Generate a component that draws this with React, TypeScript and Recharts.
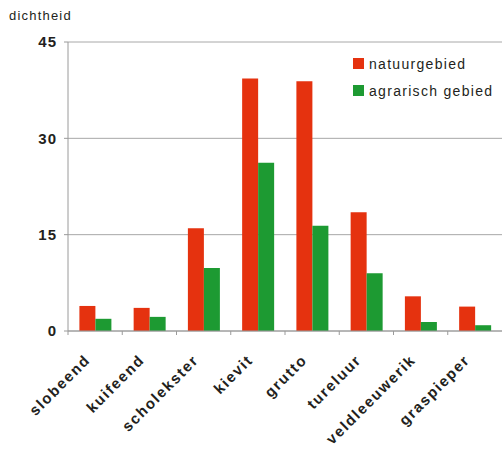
import React from "react";
import { BarChart, Bar, XAxis, YAxis, CartesianGrid } from "recharts";

const birds = [
  "slobeend",
  "kuifeend",
  "scholekster",
  "kievit",
  "grutto",
  "tureluur",
  "veldleeuwerik",
  "graspieper",
];
const natuurgebied = [3.9, 3.6, 16.0, 39.3, 38.9, 18.5, 5.4, 3.8];
const agrarisch = [1.9, 2.2, 9.8, 26.2, 16.4, 9.0, 1.4, 0.9];
const yTicks = [0, 15, 30, 45];

const RED = "#e5320f";
const GREEN = "#1d9a32";
const TEXT = "#231f20";
const FONT = "Liberation Sans, Arial, sans-serif";

const data = birds.map((name, i) => ({
  name,
  natuur: natuurgebied[i],
  agrarisch: agrarisch[i],
}));

const series = [
  { key: "natuur", label: "natuurgebied", color: RED },
  { key: "agrarisch", label: "agrarisch gebied", color: GREEN },
];

// category labels at 45 degrees, plus a tick mark on the left boundary of each band
function BirdTick(props: any) {
  const { x, y, payload } = props;
  const half = 434 / birds.length / 2;
  const tx = x - 4;
  const ty = y + 22;
  return (
    <g>
      <line x1={x - half} y1={y - 8} x2={x - half} y2={y - 4} stroke="#9a9a9a" />
      <text
        x={tx}
        y={ty}
        transform={`rotate(-45 ${tx} ${ty})`}
        textAnchor="end"
        fontSize={15}
        fontWeight="bold"
        letterSpacing={1.6}
        fill={TEXT}
        fontFamily={FONT}
      >
        {payload.value}
      </text>
    </g>
  );
}

export default function App() {
  return (
    <div
      style={{
        position: "absolute",
        left: 0,
        top: 0,
        width: 502,
        height: 452,
        background: "#fff",
        fontFamily: FONT,
      }}
    >
      <div
        style={{
          position: "absolute",
          left: 9,
          top: 8,
          fontSize: 13,
          letterSpacing: 1.2,
          color: TEXT,
        }}
      >
        dichtheid
      </div>
      <div
        style={{
          position: "absolute",
          left: 353,
          top: 50,
          fontSize: 14,
          letterSpacing: 1.3,
          color: TEXT,
        }}
      >
        {series.map((s) => (
          <div key={s.key} style={{ display: "flex", alignItems: "center", height: 27 }}>
            <span
              style={{
                width: 11,
                height: 11,
                background: s.color,
                marginRight: 5,
                display: "inline-block",
              }}
            />
            {s.label}
          </div>
        ))}
      </div>
      <BarChart
        width={502}
        height={452}
        data={data}
        margin={{ top: 42, right: 0, left: 0, bottom: 0 }}
        barCategoryGap="21%"
        barGap={0}
      >
        <CartesianGrid vertical={false} stroke="#a8a8a8" />
        <XAxis
          dataKey="name"
          height={121}
          interval={0}
          tickLine={false}
          tick={<BirdTick />}
          stroke="#9a9a9a"
        />
        <YAxis
          width={68}
          domain={[0, 45]}
          ticks={yTicks}
          tickSize={4}
          tickMargin={7}
          stroke="#9a9a9a"
          tick={{ fontSize: 15, fontWeight: "bold", fill: TEXT, letterSpacing: 1 }}
        />
        {series.map((s) => (
          <Bar key={s.key} dataKey={s.key} fill={s.color} isAnimationActive={false} />
        ))}
      </BarChart>
    </div>
  );
}
